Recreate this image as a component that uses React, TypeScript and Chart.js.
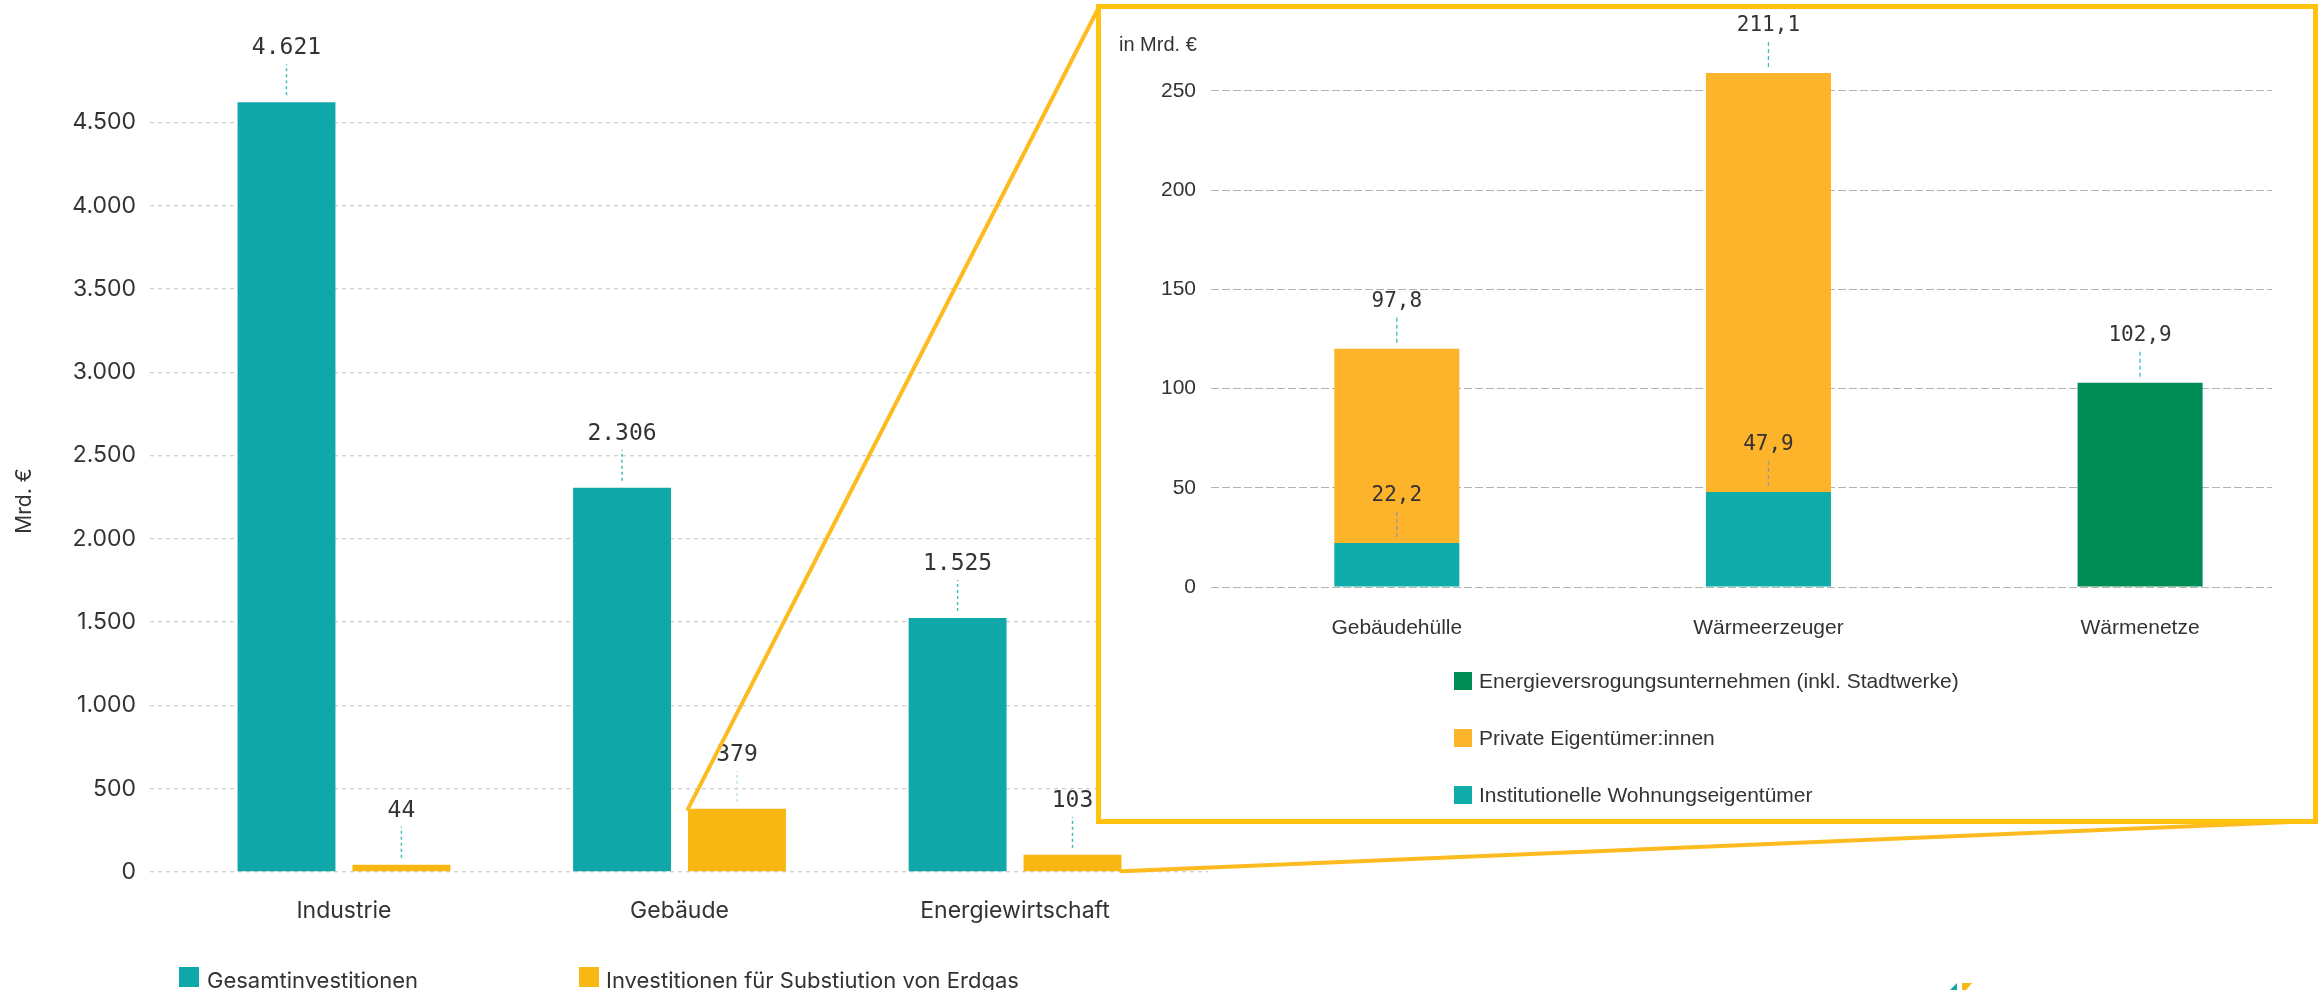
import React, { useEffect, useRef } from "react";
import { Chart, registerables } from "chart.js";

Chart.register(...registerables);

// ---------- data ----------
const sectors = ["Industrie", "Gebäude", "Energiewirtschaft"];
const totalInvestment = [4621, 2306, 1525];
const gasSubstitution = [44, 379, 103];
const leftSeriesNames = ["Gesamtinvestitionen", "Investitionen für Substiution von Erdgas"];
const leftYTicks = [0, 500, 1000, 1500, 2000, 2500, 3000, 3500, 4000, 4500];

const buildingParts = ["Gebäudehülle", "Wärmeerzeuger", "Wärmenetze"];
const institutionalOwners = [22.2, 47.9, null];
const privateOwners = [97.8, 211.1, null];
const utilityCompanies = [null, null, 102.9];
const insetSeriesNames = [
  "Institutionelle Wohnungseigentümer",
  "Private Eigentümer:innen",
  "Energieversrogungsunternehmen (inkl. Stadtwerke)",
];
const insetYTicks = [0, 50, 100, 150, 200, 250];

// ---------- styles / layout ----------
const TEAL = "#10A7A8";
const YELLOW = "#F9B713";
const INSET_TEAL = "#10ACA9";
const INSET_ORANGE = "#FDB32A";
const INSET_GREEN = "#008C55";
const BOX_YELLOW = "#FFC20E";
const TEXT = "#333333";
const SANS = "Inter, 'Liberation Sans', sans-serif";
const INSET_SANS = "'Liberation Sans', Arial, sans-serif";
const MONO = "'DejaVu Sans Mono', monospace";

const W = 2320;
const H = 990;
const BOX = { left: 1096, top: 4, width: 1222, height: 820, border: 5 };
const INNER_W = BOX.width - 2 * BOX.border;
const INNER_H = BOX.height - 2 * BOX.border;

function fmtThousands(v: number): string {
  const s = Math.round(v).toString();
  return s.replace(/\B(?=(\d{3})+(?!\d))/g, ".");
}
function fmtDecimal(v: number): string {
  return v.toFixed(1).replace(".", ",");
}

const toPoints = (arr: (number | null)[]) =>
  arr.map((v, i) => ({ x: i, y: v })).filter((p) => p.y !== null);

export default function App() {
  const leftRef = useRef<HTMLCanvasElement | null>(null);
  const insetRef = useRef<HTMLCanvasElement | null>(null);

  useEffect(() => {
    if (!leftRef.current || !insetRef.current) return;

    const leftPlugin = {
      id: "leftDecor",
      afterDatasetsDraw(chart: any) {
        const ctx = chart.ctx as CanvasRenderingContext2D;
        ctx.save();
        chart.data.datasets.forEach((ds: any, di: number) => {
          const meta = chart.getDatasetMeta(di);
          meta.data.forEach((el: any, i: number) => {
            const { x, y } = el.getProps(["x", "y"], true);
            const v = ds.data[i].y as number;
            ctx.setLineDash([3, 3]);
            ctx.strokeStyle = di === 1 && i === 1 ? "#BFE4E4" : "#45BDBD";
            ctx.lineWidth = 1.5;
            ctx.beginPath();
            ctx.moveTo(x, y - 7);
            ctx.lineTo(x, y - 38);
            ctx.stroke();
            ctx.setLineDash([]);
            ctx.fillStyle = TEXT;
            ctx.font = `23px ${MONO}`;
            ctx.textAlign = "center";
            ctx.textBaseline = "middle";
            ctx.fillText(fmtThousands(v), x, y - 54);
          });
        });

        // connector lines to the inset box
        const meta = chart.getDatasetMeta(1);
        const a = meta.data[1].getProps(["x", "y", "width"], true);
        const b = meta.data[2].getProps(["x", "base", "width"], true);
        ctx.strokeStyle = "#FDBB1F";
        ctx.lineWidth = 4;
        ctx.lineCap = "round";
        ctx.beginPath();
        ctx.moveTo(a.x - a.width / 2, a.y);
        ctx.lineTo(BOX.left + 3, BOX.top + 3);
        ctx.stroke();
        ctx.beginPath();
        ctx.moveTo(b.x + b.width / 2, b.base);
        ctx.lineTo(BOX.left + BOX.width - 3, BOX.top + BOX.height - 3);
        ctx.stroke();

        // y title
        ctx.translate(25, 501);
        ctx.rotate(-Math.PI / 2);
        ctx.fillStyle = TEXT;
        ctx.font = `21px ${SANS}`;
        ctx.textAlign = "center";
        ctx.textBaseline = "middle";
        ctx.fillText("Mrd. €", 0, 0);
        ctx.restore();
      },
    };

    const left = new Chart(leftRef.current, {
      type: "bar",
      data: {
        datasets: [
          {
            label: leftSeriesNames[0],
            data: toPoints(totalInvestment) as any,
            backgroundColor: TEAL,
            barPercentage: 0.852,
            categoryPercentage: 0.685,
          },
          {
            label: leftSeriesNames[1],
            data: toPoints(gasSubstitution) as any,
            backgroundColor: YELLOW,
            barPercentage: 0.852,
            categoryPercentage: 0.685,
          },
        ],
      },
      options: {
        animation: false,
        responsive: false,
        devicePixelRatio: 1,
        layout: { padding: { top: 39, right: W - 1208, bottom: 58, left: 0 } },
        plugins: { legend: { display: false }, tooltip: { enabled: false } },
        scales: {
          x: {
            type: "linear",
            min: -0.578,
            max: 2.575,
            offset: false,
            grid: { display: false, drawTicks: false },
            border: { display: false },
            afterBuildTicks: (s: any) => {
              s.ticks = sectors.map((_, i) => ({ value: i }));
            },
            afterFit: (s: any) => {
              s.height = 60;
            },
            ticks: {
              autoSkip: false,
              maxRotation: 0,
              padding: 25,
              color: TEXT,
              font: { family: SANS, size: 23 },
              callback: (v: any) => sectors[v as number] ?? "",
            },
          },
          y: {
            min: 0,
            max: 5000,
            afterBuildTicks: (s: any) => {
              s.ticks = leftYTicks.map((v) => ({ value: v }));
            },
            afterFit: (s: any) => {
              s.width = 150;
            },
            grid: { color: "#CFCFCF", lineWidth: 1.3, drawTicks: false },
            border: { display: false, dash: [4, 4] },
            ticks: {
              padding: 14,
              color: TEXT,
              font: { family: SANS, size: 23 },
              callback: (v: any) => fmtThousands(v as number),
            },
          },
        },
      } as any,
      plugins: [leftPlugin],
    });

    const insetPlugin = {
      id: "insetDecor",
      afterDatasetsDraw(chart: any) {
        const ctx = chart.ctx as CanvasRenderingContext2D;
        ctx.save();
        const dsets = chart.data.datasets;
        dsets.forEach((ds: any, di: number) => {
          const meta = chart.getDatasetMeta(di);
          meta.data.forEach((el: any, i: number) => {
            const pt = ds.data[i];
            const { x, y } = el.getProps(["x", "y"], true);
            const isTop = !dsets.some(
              (o: any, oi: number) => oi > di && o.data.some((p: any) => p.x === pt.x)
            );
            ctx.setLineDash([4, 3]);
            ctx.strokeStyle = isTop ? "#3DBDBD" : "#9A9A9A";
            ctx.lineWidth = 1.3;
            ctx.beginPath();
            ctx.moveTo(x, y - 6);
            ctx.lineTo(x, y - 34);
            ctx.stroke();
            ctx.setLineDash([]);
            ctx.fillStyle = TEXT;
            ctx.font = `21px ${MONO}`;
            ctx.textAlign = "center";
            ctx.textBaseline = "middle";
            ctx.fillText(fmtDecimal(pt.y), x, y - 47);
          });
        });
        ctx.fillStyle = TEXT;
        ctx.font = `20px ${INSET_SANS}`;
        ctx.textAlign = "left";
        ctx.textBaseline = "middle";
        ctx.fillText("in Mrd. €", 18, 36);
        ctx.restore();
      },
    };

    const insetCommon = { barPercentage: 0.3365, categoryPercentage: 1 };
    const inset = new Chart(insetRef.current, {
      type: "bar",
      data: {
        datasets: [
          { label: insetSeriesNames[0], data: toPoints(institutionalOwners) as any, backgroundColor: INSET_TEAL, ...insetCommon },
          { label: insetSeriesNames[1], data: toPoints(privateOwners) as any, backgroundColor: INSET_ORANGE, ...insetCommon },
          { label: insetSeriesNames[2], data: toPoints(utilityCompanies) as any, backgroundColor: INSET_GREEN, ...insetCommon },
        ],
      },
      options: {
        animation: false,
        responsive: false,
        devicePixelRatio: 1,
        layout: { padding: { top: 58, right: INNER_W - 1171, bottom: INNER_H - 578 - 60, left: 0 } },
        plugins: { legend: { display: false }, tooltip: { enabled: false } },
        scales: {
          x: {
            type: "linear",
            stacked: true,
            min: -0.5,
            max: 2.355,
            offset: false,
            grid: { display: false, drawTicks: false },
            border: { display: false },
            afterBuildTicks: (s: any) => {
              s.ticks = buildingParts.map((_, i) => ({ value: i }));
            },
            afterFit: (s: any) => {
              s.height = 60;
            },
            ticks: {
              autoSkip: false,
              maxRotation: 0,
              padding: 29,
              color: TEXT,
              font: { family: INSET_SANS, size: 21 },
              callback: (v: any) => buildingParts[v as number] ?? "",
            },
          },
          y: {
            stacked: true,
            min: 0,
            max: 262,
            afterBuildTicks: (s: any) => {
              s.ticks = insetYTicks.map((v) => ({ value: v }));
            },
            afterFit: (s: any) => {
              s.width = 110;
            },
            grid: { color: "#B3B3B3", lineWidth: 1, drawTicks: false },
            border: { display: false, dash: [8, 3] },
            ticks: {
              padding: 15,
              color: TEXT,
              font: { family: INSET_SANS, size: 21 },
              callback: (v: any) => String(v),
            },
          },
        },
      } as any,
      plugins: [insetPlugin],
    });

    return () => {
      left.destroy();
      inset.destroy();
    };
  }, []);

  const leftLegend = [
    { name: leftSeriesNames[0], color: TEAL, x: 179, tx: 207 },
    { name: leftSeriesNames[1], color: YELLOW, x: 579, tx: 606 },
  ];
  const insetLegend = [
    { name: insetSeriesNames[2], color: INSET_GREEN },
    { name: insetSeriesNames[1], color: INSET_ORANGE },
    { name: insetSeriesNames[0], color: INSET_TEAL },
  ];

  return (
    <div style={{ position: "fixed", left: 0, top: 0, width: W, height: H, background: "#fff", overflow: "hidden" }}>
      <canvas ref={leftRef} width={W} height={H} style={{ position: "absolute", left: 0, top: 0, width: W, height: H }} />
      {leftLegend.map((l) => (
        <React.Fragment key={l.name}>
          <div style={{ position: "absolute", left: l.x, top: 967, width: 20, height: 20, background: l.color }} />
          <div
            style={{
              position: "absolute",
              left: l.tx,
              top: 965,
              lineHeight: "30px",
              fontFamily: SANS,
              fontSize: 22,
              color: TEXT,
              whiteSpace: "nowrap",
            }}
          >
            {l.name}
          </div>
        </React.Fragment>
      ))}
      <div style={{ position: "absolute", left: 1945, top: 983, width: 0, height: 0, borderLeft: "12px solid transparent", borderBottom: "12px solid " + TEAL }} />
      <div style={{ position: "absolute", left: 1962, top: 983, width: 0, height: 0, borderRight: "10px solid transparent", borderTop: "12px solid " + YELLOW }} />
      <div
        style={{
          position: "absolute",
          left: BOX.left,
          top: BOX.top,
          width: BOX.width,
          height: BOX.height,
          border: `${BOX.border}px solid ${BOX_YELLOW}`,
          boxSizing: "border-box",
          background: "#fff",
        }}
      >
        <canvas ref={insetRef} width={INNER_W} height={INNER_H} style={{ position: "absolute", left: 0, top: 0, width: INNER_W, height: INNER_H }} />
        {insetLegend.map((l, i) => (
          <React.Fragment key={l.name}>
            <div style={{ position: "absolute", left: 353, top: 663 + i * 57, width: 18, height: 18, background: l.color }} />
            <div
              style={{
                position: "absolute",
                left: 378,
                top: 659 + i * 57,
                lineHeight: "26px",
                fontFamily: INSET_SANS,
                fontSize: 21,
                color: TEXT,
                whiteSpace: "nowrap",
              }}
            >
              {l.name}
            </div>
          </React.Fragment>
        ))}
      </div>
    </div>
  );
}
